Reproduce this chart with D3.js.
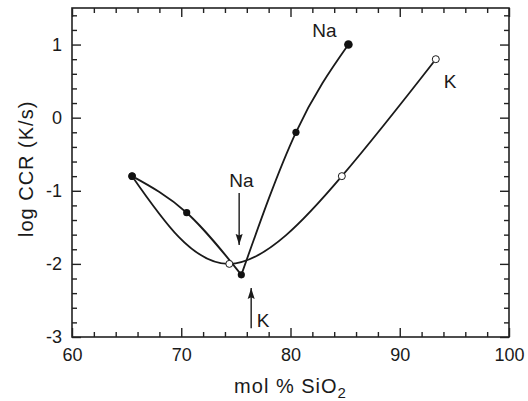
<!DOCTYPE html>
<html>

<head>
  <meta charset="utf-8">
  <style>
    body { margin: 0; background: #fff; }
    text { font-family: "Liberation Sans", Arial, Helvetica, sans-serif; fill: #1a1a1a; }
  </style>
</head>

<body>
  <script src="https://d3js.org/d3.v7.min.js"></script>
  <script>
    // Na glasses (filled dots), K glasses (open circles)
    var naX = [65.5, 70.5, 75.5, 80.5, 85.3];
    var naY = [-0.8, -1.3, -2.15, -0.2, 1.0];
    var kX = [65.5, 74.4, 84.7, 93.3];
    var kY = [-0.8, -2.0, -0.8, 0.8];

    var xMajor = [60, 70, 80, 90, 100];
    var yMajor = [-3, -2, -1, 0, 1];

    // text labels and arrows in data units
    var labels = [
      { text: "Na", x: 83.1, y: 1.1, anchor: "middle" },
      { text: "K", x: 94.6, y: 0.41, anchor: "middle" },
      { text: "Na", x: 75.5, y: -0.95, anchor: "middle" },
      { text: "K", x: 76.9, y: -2.86, anchor: "start" }
    ];
    var arrows = [
      { x: 75.3, y0: -1.03, y1: -1.74 },
      { x: 76.4, y0: -2.88, y1: -2.33 }
    ];

    var margin = { top: 8, right: 19, bottom: 64, left: 72 },
      width = 528 - margin.left - margin.right,
      height = 401 - margin.top - margin.bottom;

    var svg = d3.select("body").append("svg")
      .attr("width", 528)
      .attr("height", 401)
      .append("g")
      .attr("transform", "translate(" + margin.left + "," + margin.top + ")");

    var x = d3.scaleLinear().domain([60, 100]).range([0, width]);
    var y = d3.scaleLinear().domain([-3, 1.5]).range([height, 0]);

    var xMinor = d3.range(60, 100.1, 2).filter(function(d) { return d % 10 !== 0; });
    var yMinor = d3.range(-3, 1.51, 0.2).map(function(d) { return +d.toFixed(1); })
      .filter(function(d) { return Math.abs(d - Math.round(d)) > 0.01; });

    var fmt = function(d) { return String(d); };

    function styleAxis(g) {
      g.select(".domain").remove();
      g.selectAll(".tick line").attr("stroke", "#222").attr("stroke-width", 1.4);
      g.selectAll(".tick text").style("font-size", "18px").attr("fill", "#1a1a1a");
    }

    // bottom
    svg.append("g").attr("transform", "translate(0," + height + ")")
      .call(d3.axisBottom(x).tickValues(xMajor).tickSize(-9).tickPadding(11).tickFormat(fmt))
      .call(styleAxis);
    svg.append("g").attr("transform", "translate(0," + height + ")")
      .call(d3.axisBottom(x).tickValues(xMinor).tickSize(-5).tickFormat(""))
      .call(styleAxis);
    // top
    svg.append("g")
      .call(d3.axisTop(x).tickValues(xMajor).tickSize(-9).tickFormat(""))
      .call(styleAxis);
    svg.append("g")
      .call(d3.axisTop(x).tickValues(xMinor).tickSize(-5).tickFormat(""))
      .call(styleAxis);
    // left
    svg.append("g")
      .call(d3.axisLeft(y).tickValues(yMajor).tickSize(-9).tickPadding(10).tickFormat(fmt))
      .call(styleAxis);
    svg.append("g")
      .call(d3.axisLeft(y).tickValues(yMinor).tickSize(-5).tickFormat(""))
      .call(styleAxis);
    // right
    svg.append("g").attr("transform", "translate(" + width + ",0)")
      .call(d3.axisRight(y).tickValues(yMajor).tickSize(-9).tickFormat(""))
      .call(styleAxis);
    svg.append("g").attr("transform", "translate(" + width + ",0)")
      .call(d3.axisRight(y).tickValues(yMinor).tickSize(-5).tickFormat(""))
      .call(styleAxis);

    svg.append("rect")
      .attr("width", width).attr("height", height)
      .attr("fill", "none").attr("stroke", "#222").attr("stroke-width", 1.6);

    // curves
    var line = d3.line()
      .x(function(d) { return x(d[0]); })
      .y(function(d) { return y(d[1]); })
      .curve(d3.curveNatural);

    var naPts = naX.map(function(d, i) { return [d, naY[i]]; });
    var kPts = kX.map(function(d, i) { return [d, kY[i]]; });
    var iMin = naY.indexOf(d3.min(naY));

    svg.append("path").datum(kPts)
      .attr("d", line).attr("fill", "none").attr("stroke", "#1a1a1a").attr("stroke-width", 1.8);
    svg.append("path").datum(naPts.slice(0, iMin + 1))
      .attr("d", line).attr("fill", "none").attr("stroke", "#1a1a1a").attr("stroke-width", 1.8);
    svg.append("path").datum(naPts.slice(iMin))
      .attr("d", line).attr("fill", "none").attr("stroke", "#1a1a1a").attr("stroke-width", 1.8);

    svg.selectAll(".kdot").data(kPts).enter().append("circle")
      .attr("class", "kdot")
      .attr("cx", function(d) { return x(d[0]); })
      .attr("cy", function(d) { return y(d[1]); })
      .attr("r", 3.5)
      .attr("fill", "#fff").attr("stroke", "#1a1a1a").attr("stroke-width", 1);

    svg.selectAll(".nadot").data(naPts).enter().append("circle")
      .attr("class", "nadot")
      .attr("cx", function(d) { return x(d[0]); })
      .attr("cy", function(d) { return y(d[1]); })
      .attr("r", function(d, i) { return i === naPts.length - 1 ? 4.3 : 3.6; })
      .attr("fill", "#111");

    // arrows
    svg.append("defs").append("marker")
      .attr("id", "head")
      .attr("viewBox", "0 0 10 10")
      .attr("refX", 10).attr("refY", 5)
      .attr("markerWidth", 11).attr("markerHeight", 11)
      .attr("markerUnits", "userSpaceOnUse")
      .attr("orient", "auto")
      .append("path").attr("d", "M0,1.8L10,5L0,8.2L1.5,5Z").attr("fill", "#1a1a1a");

    svg.selectAll(".arrow").data(arrows).enter().append("line")
      .attr("class", "arrow")
      .attr("x1", function(d) { return x(d.x); })
      .attr("x2", function(d) { return x(d.x); })
      .attr("y1", function(d) { return y(d.y0); })
      .attr("y2", function(d) { return y(d.y1); })
      .attr("stroke", "#1a1a1a").attr("stroke-width", 1.4)
      .attr("marker-end", "url(#head)");

    svg.selectAll(".lbl").data(labels).enter().append("text")
      .attr("class", "lbl")
      .attr("x", function(d) { return x(d.x); })
      .attr("y", function(d) { return y(d.y); })
      .attr("text-anchor", function(d) { return d.anchor; })
      .style("font-size", "19px")
      .text(function(d) { return d.text; });

    // axis titles
    var xt = svg.append("text")
      .attr("x", width / 2 + 0).attr("y", height + 56)
      .attr("text-anchor", "middle")
      .style("font-size", "20px").style("letter-spacing", "1px");
    xt.append("tspan").text("mol % SiO");
    xt.append("tspan").attr("dy", 5).style("font-size", "15px").text("2");

    svg.append("text")
      .attr("transform", "translate(" + (-39) + "," + (y(-0.7)) + ") rotate(-90)")
      .attr("text-anchor", "middle")
      .style("font-size", "20px").style("letter-spacing", "1px")
      .text("log CCR (K/s)");
  </script>
</body>

</html>
